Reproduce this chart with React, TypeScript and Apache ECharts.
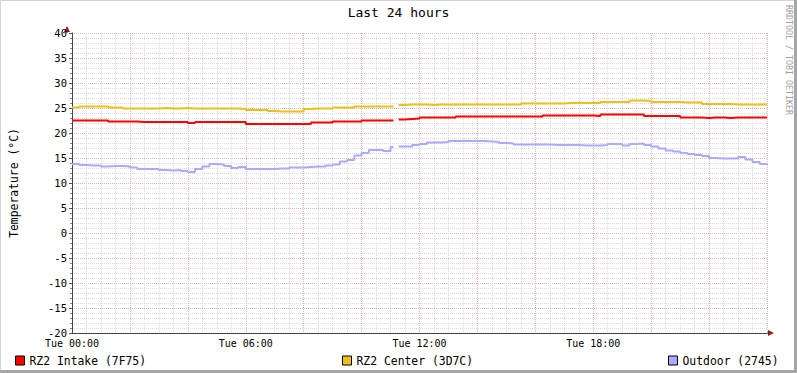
import React, { useEffect, useRef } from "react";
import * as echarts from "echarts";

// hours since Tue 00:00 (null row marks the data gap)
const hours: number[] = [
  0, 0.25, 0.5, 0.75, 1, 1.25, 1.5, 1.75, 2, 2.25, 2.5, 2.75, 3, 3.25, 3.5, 3.75,
  4, 4.25, 4.5, 4.75, 5, 5.25, 5.5, 5.75, 6, 6.25, 6.5, 6.75, 7, 7.25, 7.5, 7.75,
  8, 8.25, 8.5, 8.75, 9, 9.25, 9.5, 9.75, 10, 10.25, 10.5, 10.75, 11, 11.1, 11.28,
  11.5, 11.75, 12, 12.25, 12.5, 12.75, 13, 13.25, 13.5, 13.75, 14, 14.25, 14.5, 14.75,
  15, 15.25, 15.5, 15.75, 16, 16.25, 16.5, 16.75, 17, 17.25, 17.5, 17.75, 18, 18.25,
  18.5, 18.75, 19, 19.25, 19.5, 19.75, 20, 20.25, 20.5, 20.75, 21, 21.25, 21.5, 21.75,
  22, 22.25, 22.5, 22.75, 23, 23.25, 23.5, 23.75, 24,
];

const intake: (number | null)[] = [
  22.5, 22.5, 22.5, 22.5, 22.5, 22.3, 22.3, 22.3, 22.3, 22.2, 22.2, 22.2, 22.2, 22.2, 22.2, 22.2,
  22.0, 22.2, 22.2, 22.2, 22.2, 22.2, 22.2, 22.2, 21.8, 21.8, 21.8, 21.8, 21.8, 21.8, 21.8, 21.8,
  21.8, 22.1, 22.1, 22.1, 22.3, 22.3, 22.3, 22.3, 22.5, 22.5, 22.5, 22.5, 22.5, null, 22.7,
  22.8, 22.9, 23.1, 23.1, 23.1, 23.1, 23.1, 23.3, 23.3, 23.3, 23.3, 23.3, 23.3, 23.3,
  23.3, 23.3, 23.3, 23.3, 23.3, 23.5, 23.5, 23.5, 23.5, 23.5, 23.5, 23.5, 23.4, 23.7,
  23.7, 23.7, 23.7, 23.7, 23.7, 23.4, 23.4, 23.4, 23.4, 23.4, 23.1, 23.1, 23.1, 23.0,
  23.1, 23.1, 23.0, 23.1, 23.1, 23.1, 23.1, 23.1, 23.1,
];

const center: (number | null)[] = [
  25.1, 25.3, 25.3, 25.3, 25.3, 25.1, 25.1, 24.9, 24.9, 24.9, 24.9, 24.9, 25.0, 24.9, 24.9, 25.0,
  24.9, 24.9, 24.9, 24.9, 24.9, 24.9, 24.9, 24.8, 24.6, 24.6, 24.6, 24.4, 24.3, 24.3, 24.3, 24.3,
  24.8, 24.9, 24.9, 24.9, 25.1, 25.1, 25.1, 25.3, 25.3, 25.3, 25.3, 25.3, 25.3, null, 25.6,
  25.7, 25.7, 25.7, 25.6, 25.7, 25.7, 25.7, 25.7, 25.7, 25.7, 25.7, 25.7, 25.7, 25.7,
  25.7, 25.7, 25.9, 25.9, 25.9, 25.9, 25.9, 25.9, 26.0, 26.0, 26.0, 26.0, 26.0, 26.2,
  26.2, 26.2, 26.2, 26.5, 26.5, 26.4, 26.2, 26.2, 26.2, 26.2, 26.1, 26.1, 26.1, 25.8,
  25.8, 25.8, 25.8, 25.7, 25.7, 25.7, 25.7, 25.7, 25.7,
];

const outdoor: (number | null)[] = [
  13.8, 13.6, 13.5, 13.5, 13.3, 13.4, 13.4, 13.3, 13.1, 12.8, 12.8, 12.8, 12.6, 12.5, 12.6, 12.4,
  12.2, 12.8, 13.3, 13.8, 13.7, 13.4, 13.0, 13.2, 12.8, 12.8, 12.8, 12.8, 12.9, 12.9, 13.1, 13.1,
  13.2, 13.3, 13.3, 13.5, 13.7, 14.3, 14.6, 15.5, 16.0, 16.6, 16.6, 16.4, 17.2, null, 17.3,
  17.3, 17.6, 17.8, 18.1, 18.1, 18.2, 18.4, 18.4, 18.4, 18.4, 18.4, 18.3, 18.2, 18.0,
  17.9, 17.7, 17.7, 17.7, 17.7, 17.7, 17.6, 17.6, 17.6, 17.6, 17.5, 17.5, 17.5, 17.6,
  17.8, 17.8, 17.5, 17.8, 17.9, 17.6, 17.3, 16.9, 16.5, 16.3, 16.0, 15.8, 15.6, 15.4,
  15.0, 14.9, 14.9, 14.9, 15.2, 14.7, 14.2, 13.8, 13.6,
];

const seriesNames = ["RZ2 Intake (7F75)", "RZ2 Center (3D7C)", "Outdoor (2745)"];
const seriesColors = ["#FF0000", "#EAC11A", "#AAAAFF"];
const legendLeft = [15, 342, 668];
const titleText = "Last 24 hours";
const yAxisTitle = "Temperature (°C)";
const watermark = "RRDTOOL / TOBI OETIKER";
const dayName = "Tue";

const MONO = "DejaVu Sans Mono";

export default function App() {
  const ref = useRef<HTMLDivElement>(null);
  useEffect(() => {
    if (!ref.current) return;
    const chart = echarts.init(ref.current, undefined, { renderer: "svg" });
    const values = [intake, center, outdoor];
    const pad = (n: number) => (n < 10 ? "0" + n : "" + n);
    const option: any = {
      animation: false,
      backgroundColor: "#FFFFFF",
      title: {
        text: titleText,
        left: "center",
        top: 6,
        padding: 0,
        textStyle: { fontFamily: MONO, fontSize: 13, fontWeight: "normal", color: "#000" },
      },
      legend: seriesNames.map((n, i) => ({
        data: [n],
        left: legendLeft[i],
        top: 355,
        padding: 0,
        icon: "rect",
        itemWidth: 9,
        itemHeight: 9,
        itemStyle: { borderColor: "#000", borderWidth: 1 },
        textStyle: { fontFamily: MONO, fontSize: 11.4, color: "#000" },
        selectedMode: false,
      })),
      grid: { left: 67, right: 30, top: 33, bottom: 40, containLabel: false },
      xAxis: {
        type: "value",
        min: 0,
        max: 24,
        interval: 2,
        axisLine: { show: true, onZero: false, lineStyle: { color: "#4a4040", width: 1 } },
        axisTick: { show: false },
        minorTick: { show: false, splitNumber: 4 },
        axisLabel: {
          fontFamily: MONO,
          fontSize: 10,
          lineHeight: 11,
          color: "#000",
          margin: 5,
          showMaxLabel: false,
          formatter: (v: number) => (v % 6 === 0 && v < 24 ? `${dayName} ${pad(v)}:00` : ""),
        },
        splitLine: { show: true, lineStyle: { color: "#EBB3B3", width: 1, type: [1, 1] } },
        minorSplitLine: { show: true, lineStyle: { color: "#DCDCDC", width: 1, type: [1, 1] } },
      },
      yAxis: {
        type: "value",
        min: -20,
        max: 40,
        interval: 5,
        name: yAxisTitle,
        nameLocation: "middle",
        nameRotate: 90,
        nameGap: 53,
        nameTextStyle: { fontFamily: MONO, fontSize: 11.4, color: "#000" },
        axisLine: { show: true, onZero: false, lineStyle: { color: "#4a4040", width: 1 } },
        axisTick: { show: true, length: 3, lineStyle: { color: "#555" } },
        minorTick: { show: true, splitNumber: 5, length: 2, lineStyle: { color: "#888" } },
        axisLabel: { fontFamily: MONO, fontSize: 10.5, lineHeight: 10, color: "#000", margin: 5 },
        splitLine: { show: true, lineStyle: { color: "#EBB3B3", width: 1, type: [1, 1] } },
        minorSplitLine: { show: true, lineStyle: { color: "#DCDCDC", width: 1, type: [1, 1] } },
      },
      series: seriesNames.map((n, i) => ({
        name: n,
        type: "line",
        step: "end",
        showSymbol: false,
        symbol: "none",
        connectNulls: false,
        color: seriesColors[i],
        itemStyle: { color: seriesColors[i] },
        lineStyle: { color: seriesColors[i], width: 2 },
        data: hours.map((h, j) => [h, values[i][j]]),
      })),
      graphic: [
        { type: "rect", shape: { x: 0, y: 0, width: 797, height: 1 }, style: { fill: "#D4D4D4" }, silent: true },
        { type: "rect", shape: { x: 0, y: 0, width: 1, height: 373 }, style: { fill: "#D4D4D4" }, silent: true },
        { type: "rect", shape: { x: 0, y: 370, width: 797, height: 3 }, style: { fill: "#A6A6A6" }, silent: true },
        { type: "rect", shape: { x: 794, y: 0, width: 3, height: 373 }, style: { fill: "#A6A6A6" }, silent: true },
        { type: "line", shape: { x1: 67, y1: 33, x2: 67, y2: 30 }, style: { stroke: "#4a4040", lineWidth: 1 } },
        { type: "polygon", shape: { points: [[64, 32], [67, 26], [70, 32]] }, style: { fill: "#902020" } },
        { type: "line", shape: { x1: 767, y1: 333, x2: 769, y2: 333 }, style: { stroke: "#4a4040", lineWidth: 1 } },
        { type: "polygon", shape: { points: [[768, 330], [774, 333], [768, 336]] }, style: { fill: "#902020" } },
        {
          type: "text",
          x: 789,
          y: 5,
          rotation: -Math.PI / 2,
          style: {
            text: watermark,
            fontFamily: MONO,
            fontSize: 8.3,
            fill: "#A0A0A0",
            textAlign: "left",
            textVerticalAlign: "middle",
          },
        },
      ],
    };
    chart.setOption(option);
    return () => chart.dispose();
  }, []);
  return (
    <div
      ref={ref}
      style={{ position: "fixed", left: 0, top: 0, width: 797, height: 373 }}
    />
  );
}
